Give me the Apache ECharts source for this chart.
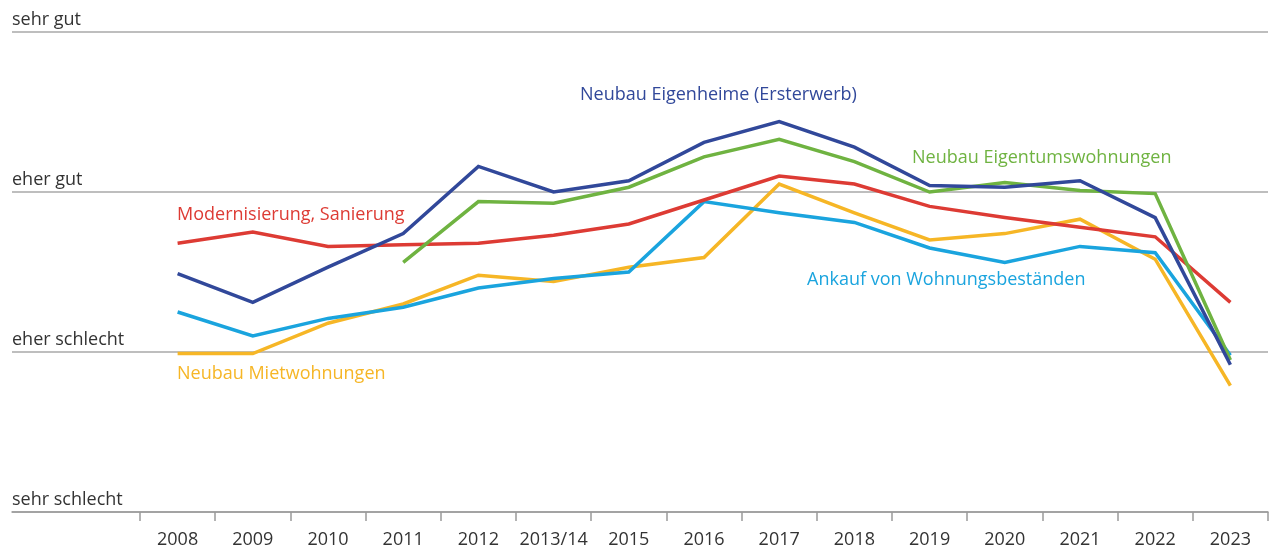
<!DOCTYPE html>
<html>
<head>
<meta charset="utf-8">
<script src="https://cdn.jsdelivr.net/npm/echarts@6/dist/echarts.min.js"></script>
<style>
html,body{margin:0;padding:0;background:#fff;}
#chart{width:1281px;height:552px;}
</style>
</head>
<body>
<div id="chart"></div>
<script>
// Categories (years)
const years = ['2008','2009','2010','2011','2012','2013/14','2015','2016','2017','2018','2019','2020','2021','2022','2023'];
// Level labels: 0 = sehr schlecht, 1 = eher schlecht, 2 = eher gut, 3 = sehr gut
const levelLabels = ['sehr schlecht','eher schlecht','eher gut','sehr gut'];

// Series values (0..3 scale)
const neubauEigenheime = [1.49,1.31,1.53,1.74,2.16,2.00,2.07,2.31,2.44,2.28,2.04,2.03,2.07,1.84,0.92];
const neubauEigentumswohnungen = [null,null,null,1.56,1.94,1.93,2.03,2.22,2.33,2.19,2.00,2.06,2.01,1.99,0.95];
const modernisierung = [1.68,1.75,1.66,1.67,1.68,1.73,1.80,1.95,2.10,2.05,1.91,1.84,1.78,1.72,1.31];
const ankauf = [1.25,1.10,1.21,1.28,1.40,1.46,1.50,1.94,1.87,1.81,1.65,1.56,1.66,1.62,0.98];
const neubauMietwohnungen = [0.99,0.99,1.18,1.30,1.48,1.44,1.53,1.59,2.05,1.87,1.70,1.74,1.83,1.58,0.79];

const seriesNames = ['Neubau Eigenheime (Ersterwerb)','Neubau Eigentumswohnungen','Modernisierung, Sanierung','Ankauf von Wohnungsbeständen','Neubau Mietwohnungen'];
const seriesData = [neubauEigenheime, neubauEigentumswohnungen, modernisierung, ankauf, neubauMietwohnungen];
const colors = ['#31489a','#6fb341','#dd3b34','#1aa4de','#f6b626'];

const FONT = '"Open Sans", "Noto Sans", sans-serif';
const chart = echarts.init(document.getElementById('chart'));

const lineSeries = seriesData.map((d, i) => ({
  name: seriesNames[i],
  type: 'line',
  xAxisIndex: 1,
  yAxisIndex: 1,
  data: d,
  symbol: 'none',
  connectNulls: false,
  lineStyle: {color: colors[i], width: 3.5, join: 'miter'},
  z: 10 - i
}));

function label(text, color, left, top){
  return {type:'text', left:left, top:top, z:100,
    style:{text:text, fill:color, font:'18px ' + FONT}};
}

chart.setOption({
  animation: false,
  backgroundColor: '#fff',
  grid: [
    {left: 12, right: 13, top: 32, bottom: 40},
    {left: 140, right: 13, top: 32, bottom: 40}
  ],
  xAxis: [
    {gridIndex: 0, type: 'value', min: 0, max: 1, show: true,
     axisLine: {show: true, onZero: false, lineStyle: {color: '#9a9a9a', width: 1.5}},
     axisTick: {show: false}, axisLabel: {show: false}, splitLine: {show: false}},
    {gridIndex: 1, type: 'category', data: years, boundaryGap: true,
     axisLine: {show: false},
     axisTick: {show: true, interval: 0, length: 9, lineStyle: {color: '#9a9a9a', width: 1.5}},
     axisLabel: {interval: 0, margin: 19, fontSize: 18, color: '#333', fontFamily: FONT}}
  ],
  yAxis: [
    {gridIndex: 0, type: 'value', min: 0, max: 3, interval: 1,
     axisLine: {show: false}, axisTick: {show: false},
     splitLine: {show: true, lineStyle: {color: '#a8a8a8', width: 1.5}},
     axisLabel: {inside: true, margin: 0, align: 'left', verticalAlign: 'bottom',
       padding: [0,0,3,0], fontSize: 18, color: '#333', fontFamily: FONT,
       formatter: v => levelLabels[v]}},
    {gridIndex: 1, type: 'value', min: 0, max: 3, interval: 1, show: false}
  ],
  series: lineSeries,
  graphic: [
    label(seriesNames[0], colors[0], 580, 86),
    label(seriesNames[1], colors[1], 912, 149),
    label(seriesNames[2], colors[2], 177, 206),
    label(seriesNames[3], colors[3], 807, 271),
    label(seriesNames[4], colors[4], 177, 365)
  ]
});
</script>
</body>
</html>
